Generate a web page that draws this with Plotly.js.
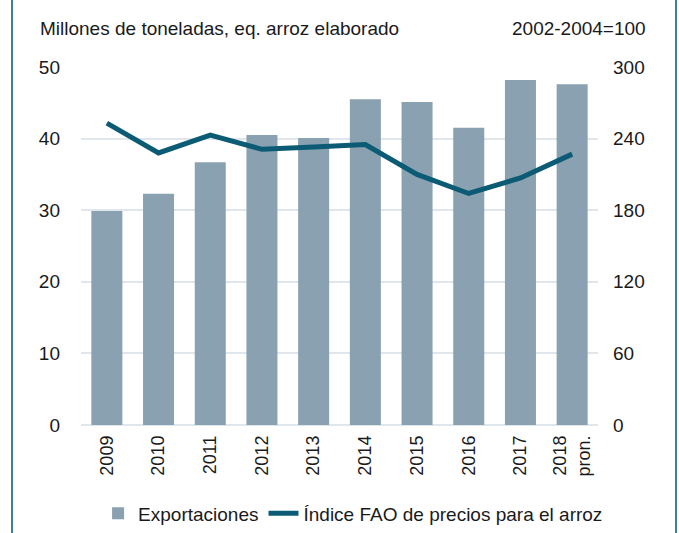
<!DOCTYPE html>
<html><head><meta charset="utf-8">
<script src="https://cdn.plot.ly/plotly-3.0.1.min.js"></script>
<style>
html,body{margin:0;padding:0;background:#fff;}
#wrap{position:absolute;left:0;top:0;width:679px;height:533px;}
#frame{position:absolute;left:11px;top:0;width:662px;height:533px;border-left:2px solid #3f7f96;border-right:2px solid #3f7f96;pointer-events:none;}
#chart{position:absolute;left:0;top:0;width:679px;height:533px;}
</style></head>
<body><div id="wrap"><div id="chart"></div><div id="frame"></div></div>
<script>
const years = ['2009','2010','2011','2012','2013','2014','2015','2016','2017','2018<br>pron.'];
const exportaciones = [29.9, 32.3, 36.7, 40.5, 40.1, 45.5, 45.1, 41.5, 48.2, 47.6];
const indiceFAO = [253, 228, 243, 231, 233, 235, 210, 194, 207, 227];
const leftTicks = [0,10,20,30,40,50];
const rightTicks = [0,60,120,180,240,300];

const font = {family:'Liberation Sans, Arial, sans-serif', size:19, color:'#1a1a1a'};
const tfont = {family:'Liberation Sans, Arial, sans-serif', size:18, color:'#1a1a1a'};
const traces = [
 {type:'bar', x:years, y:exportaciones, name:'Exportaciones', marker:{color:'#8aa1b1'}, yaxis:'y'},
 {type:'scatter', mode:'lines', x:years, y:indiceFAO, name:'Índice FAO de precios para el arroz', line:{color:'#0b5b74', width:5}, yaxis:'y2'}
];
const layout = {
 width:679, height:533, margin:{l:81, r:81, t:67, b:108},
 paper_bgcolor:'#fff', plot_bgcolor:'#fff', font:font,
 bargap:0.4, showlegend:true,
 legend:{orientation:'h', xref:'container', yref:'container', x:0.52, xanchor:'center', y:0.037, yanchor:'middle', font:font, traceorder:'normal', itemgap:4},
 xaxis:{type:'category', automargin:false, tickangle:-90, showgrid:false, showline:false, ticks:'', tickfont:tfont, ticklabelstandoff:6},
 yaxis:{automargin:false, range:[0,50], tickvals:leftTicks, showgrid:true, gridcolor:'#dfe6ec', gridwidth:2, zeroline:true, zerolinecolor:'#dfe6ec', zerolinewidth:2, ticks:'', tickfont:font, ticklabelstandoff:20},
 yaxis2:{automargin:false, range:[0,300], tickvals:rightTicks, overlaying:'y', side:'right', showgrid:false, zeroline:false, ticks:'', tickfont:font, ticklabelstandoff:14},
 annotations:[
  {text:'Millones de toneladas, eq. arroz elaborado', xref:'paper', yref:'paper', x:-0.083, y:1.0, yshift:39, xanchor:'left', yanchor:'middle', showarrow:false, font:font},
  {text:'2002-2004=100', xref:'paper', yref:'paper', x:1.0, xshift:50, y:1.0, yshift:39, xanchor:'right', yanchor:'middle', showarrow:false, font:font}
 ]
};
Plotly.newPlot('chart', traces, layout, {displayModeBar:false, staticPlot:true});
</script></body></html>
